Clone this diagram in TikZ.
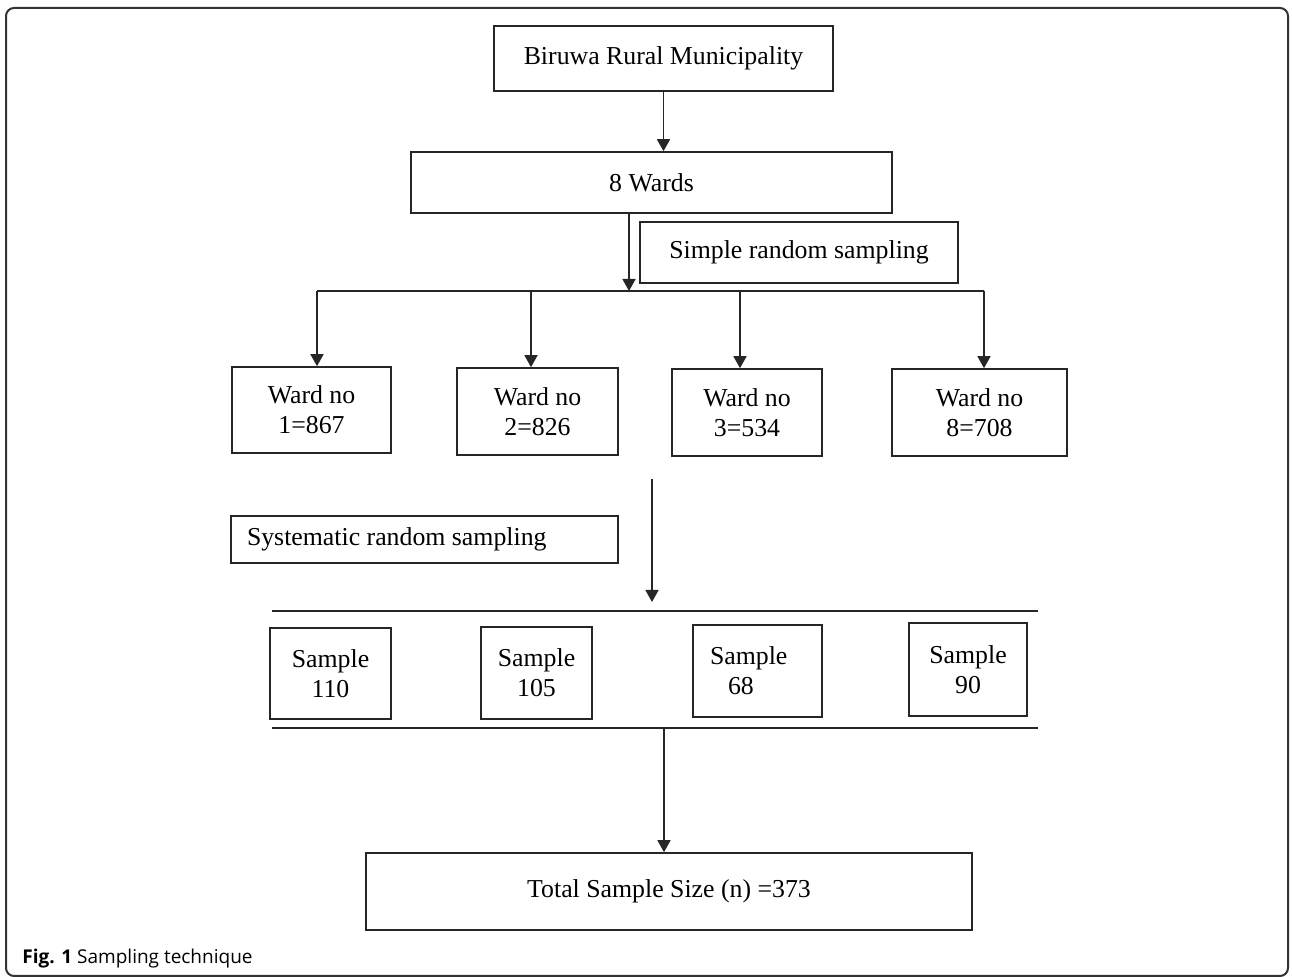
\documentclass[tikz,border=0pt]{standalone}
\usepackage{fontspec}
\setmainfont{Liberation Serif}
\newfontfamily\capfont{Open Sans}
\usetikzlibrary{arrows.meta}
\begin{document}
\begin{tikzpicture}[x=0.5pt,y=-0.5pt,
  box/.style={draw=black!85,line width=0.8pt,inner sep=0pt,align=center,
    font=\fontsize{12.9}{15}\selectfont},
  arr/.style={draw=black!85,line width=0.85pt,-{Triangle[width=6.5pt,length=6pt]}},
  ln/.style={draw=black!85,line width=0.85pt},
  frame/.style={draw=black!80,line width=1pt,rounded corners=4pt}]
\useasboundingbox (0,0) rectangle (1292,977);
\draw[frame] (6,8) rectangle (1288,976);
% boxes
\node[box,minimum width=169.5pt,minimum height=32.5pt] (bir) at (663.5,58.5) {Biruwa Rural Municipality};
\node[box,minimum width=240.5pt,minimum height=30.5pt] (wards) at (651.5,182.5) {8 Wards};
\node[box,minimum width=159pt,minimum height=30.5pt] (srs) at (799,252.5) {Simple random sampling};
\node[box,minimum width=79.5pt,minimum height=43pt] (w1) at (311.5,410) {Ward no\\1=867};
\node[box,minimum width=80.5pt,minimum height=43.5pt] (w2) at (537.5,411.5) {Ward no\\2=826};
\node[box,minimum width=75pt,minimum height=43.5pt] (w3) at (747,412.5) {Ward no\\3=534};
\node[box,minimum width=87.5pt,minimum height=43.5pt] (w8) at (979.5,412.5) {Ward no\\8=708};
\node[box,minimum width=193.5pt,minimum height=23.5pt] (sys) at (424.5,539.5) {\makebox[177.5pt][l]{Systematic random sampling}};
\node[box,minimum width=60.5pt,minimum height=45.5pt] (s1) at (330.5,673.5) {Sample\\110};
\node[box,minimum width=55.5pt,minimum height=46pt] (s2) at (536.5,673) {Sample\\105};
\node[box,minimum width=64.5pt,minimum height=46pt] (s3) at (757.5,671) {\makebox[47.5pt][l]{Sample}\\\makebox[47.5pt][l]{\hspace*{9pt}68}};
\node[box,minimum width=59pt,minimum height=46.5pt] (s4) at (968,669.5) {Sample\\90};
\node[box,minimum width=303pt,minimum height=38.5pt] (tot) at (669,891.5) {Total Sample Size (n) =373};
% coordinates
\coordinate (hl) at (317,291);
\coordinate (hr) at (984,291);
\coordinate (br) at (629,291);
\coordinate (b2) at (531,291);
\coordinate (b3) at (740,291);
\coordinate (m1) at (652,479);
\coordinate (sl1) at (272,611);
\coordinate (sl2) at (1038,611);
\coordinate (bl1) at (272,728);
\coordinate (bl2) at (1038,728);
\coordinate (b5) at (664,728);
% connectors
\draw[arr] (bir.south) -- (bir.south |- wards.north);
\draw[arr] (br |- wards.south) -- (br);
\draw[ln] (hl) -- (hr);
\draw[arr] (hl) -- (hl |- w1.north);
\draw[arr] (b2) -- (b2 |- w2.north);
\draw[arr] (b3) -- (b3 |- w3.north);
\draw[arr] (hr) -- (hr |- w8.north);
\draw[arr,shorten >=4.5pt] (m1) -- (m1 |- sl1);
\draw[ln] (sl1) -- (sl2);
\draw[ln] (bl1) -- (bl2);
\draw[arr] (b5) -- (b5 |- tot.north);
% caption
\node[anchor=base west,inner sep=0pt,font=\capfont\fontsize{9.5}{11}\selectfont] (cap) at (22,964) {\textbf{Fig. 1}\ Sampling technique};
\end{tikzpicture}
\end{document}
